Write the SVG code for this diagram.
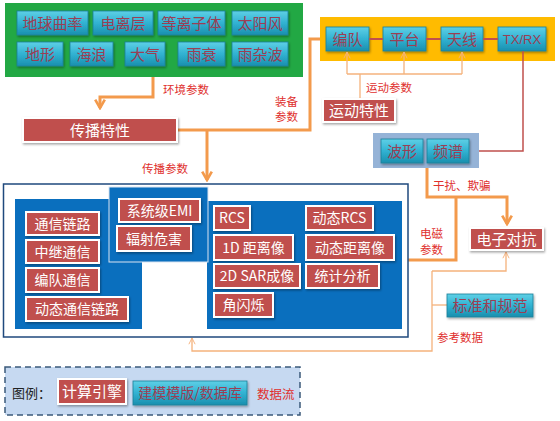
<svg xmlns="http://www.w3.org/2000/svg" width="560" height="421" viewBox="0 0 560 421">
<defs>
<linearGradient id="cy" x1="0" y1="0" x2="0" y2="1">
<stop offset="0" stop-color="#5fd0e6"/><stop offset="0.5" stop-color="#31b2d2"/><stop offset="1" stop-color="#1a8fae"/>
</linearGradient>
<filter id="sh" x="-10%" y="-10%" width="130%" height="140%">
<feDropShadow dx="1" dy="1.5" stdDeviation="1" flood-color="#000" flood-opacity="0.35"/>
</filter>
<marker id="ab" viewBox="0 0 10 10" refX="8" refY="5" markerWidth="4" markerHeight="4" orient="auto" markerUnits="strokeWidth">
<path d="M1,1 L8,5 L1,9" fill="none" stroke="#f39a4c" stroke-width="2.2"/>
</marker>
<marker id="at" viewBox="0 0 10 10" refX="9" refY="5" markerWidth="6" markerHeight="6" orient="auto" markerUnits="strokeWidth">
<path d="M1,1 L9,5 L1,9" fill="none" stroke="#f5b27c" stroke-width="1.2"/>
</marker>
</defs>
<style>
.cy{fill:url(#cy);stroke:#1b7f9a;stroke-width:0.8;filter:url(#sh)}
.ct{font-family:"Noto Sans CJK SC","Liberation Sans",sans-serif;font-size:15px;fill:#9b3e54;text-anchor:middle}
.rd{fill:#c0504d;stroke:#ffffff;stroke-width:2;filter:url(#sh)}
.rt{font-family:"Noto Sans CJK SC","Liberation Sans",sans-serif;font-size:14px;fill:#ffffff;text-anchor:middle}
.lb{font-family:"Noto Sans CJK SC",sans-serif;font-size:11.5px;fill:#e0302e}
.bp{fill:#0a6fbe}
.ot{fill:none;stroke:#f39a4c;stroke-width:3}
.on{fill:none;stroke:#f5b27c;stroke-width:1.3}
.dr{fill:none;stroke:#c0504d;stroke-width:2}
</style>
<rect x="0" y="0" width="560" height="421" fill="#ffffff"/>

<g id="env">
<rect x="5" y="3" width="298" height="74" fill="#22a844"/>
<g id="n-curv"><rect class="cy" x="17" y="11" width="71" height="24"/><text class="ct" x="52.5" y="28.5">地球曲率</text></g>
<g id="n-iono"><rect class="cy" x="93" y="11" width="60" height="24"/><text class="ct" x="123" y="28.5">电离层</text></g>
<g id="n-plasma"><rect class="cy" x="158" y="11" width="67" height="24"/><text class="ct" x="191.5" y="28.5">等离子体</text></g>
<g id="n-sun"><rect class="cy" x="232" y="11" width="56" height="24"/><text class="ct" x="260" y="28.5">太阳风</text></g>
<g id="n-terr"><rect class="cy" x="17" y="42" width="46" height="24"/><text class="ct" x="40" y="59.5">地形</text></g>
<g id="n-wave"><rect class="cy" x="70" y="42" width="43" height="24"/><text class="ct" x="91.5" y="59.5">海浪</text></g>
<g id="n-atm"><rect class="cy" x="125" y="42" width="40" height="24"/><text class="ct" x="145" y="59.5">大气</text></g>
<g id="n-rainatt"><rect class="cy" x="178" y="42" width="47" height="24"/><text class="ct" x="201.5" y="59.5">雨衰</text></g>
<g id="n-clutter"><rect class="cy" x="232" y="42" width="56" height="24"/><text class="ct" x="260" y="59.5">雨杂波</text></g>
</g>

<g id="equip">
<rect x="320" y="17" width="235" height="44" fill="#ffbb00"/>
<g id="n-form"><rect class="cy" x="326" y="27" width="43" height="24"/><text class="ct" x="347.5" y="44.5">编队</text></g>
<g id="n-plat"><rect class="cy" x="383" y="27" width="43" height="24"/><text class="ct" x="404.5" y="44.5">平台</text></g>
<g id="n-ant"><rect class="cy" x="441" y="27" width="42" height="24"/><text class="ct" x="462" y="44.5">天线</text></g>
<g id="n-txrx"><rect class="cy" x="498" y="27" width="48" height="24"/><text class="ct" x="522" y="44" style="font-family:'Liberation Sans',sans-serif;font-size:13px">TX/RX</text></g>
</g>

<g id="connectors">
<path class="dr" d="M369,39 H383 M426,39 H441 M483,39 H498"/>
<path class="dr" style="stroke-width:1.5" d="M523,51 V151 H479"/>
<path class="ot" d="M153,77 V97 H100 V108" marker-end="url(#ab)"/>
<path class="ot" d="M320,39 H310 V130 H178"/>
<path class="ot" d="M207,130 V180" marker-end="url(#ab)"/>
<path class="ot" d="M427,168 V197 H507 V224" marker-end="url(#ab)"/>
<path class="ot" d="M456,197 V260 H408"/>
<path class="on" d="M360,99 V74"/>
<path class="on" d="M347,74 H462"/>
<path class="on" d="M347,74 V52" marker-end="url(#at)"/>
<path class="on" d="M404,74 V52" marker-end="url(#at)"/>
<path class="on" d="M462,74 V52" marker-end="url(#at)"/>
<path class="on" d="M432,305 H447"/>
<path class="on" d="M432,271 H506 V252" marker-end="url(#at)"/>
<path class="on" d="M432,271 V351 H192 V338" marker-end="url(#at)"/>
</g>

<g id="labels">
<text class="lb" x="163" y="94">环境参数</text>
<text class="lb" x="275" y="106">装备</text>
<text class="lb" x="275" y="121">参数</text>
<text class="lb" x="366" y="92">运动参数</text>
<text class="lb" x="142" y="173">传播参数</text>
<text class="lb" x="433" y="190">干扰、欺骗</text>
<text class="lb" x="420" y="238">电磁</text>
<text class="lb" x="420" y="254">参数</text>
<text class="lb" x="437" y="342">参考数据</text>
</g>

<g id="n-prop"><rect class="rd" x="23" y="118" width="154" height="24"/><text class="rt" x="100" y="135.5" style="font-size:15px">传播特性</text></g>
<g id="n-motion"><rect class="rd" x="323" y="99" width="72" height="23"/><text class="rt" x="359" y="116" style="font-size:15px">运动特性</text></g>

<g id="wave">
<rect x="373" y="133" width="106" height="35" fill="#95b3d7"/>
<g id="n-wf"><rect class="cy" x="381" y="139" width="42" height="24"/><text class="ct" x="402" y="156.5">波形</text></g>
<g id="n-sp"><rect class="cy" x="427" y="139" width="42" height="24"/><text class="ct" x="448" y="156.5">频谱</text></g>
</g>

<g id="n-ecm"><rect class="rd" x="470" y="228" width="73" height="22"/><text class="rt" x="506.5" y="244.5" style="font-size:15px">电子对抗</text></g>
<g id="n-std"><rect class="cy" x="447" y="294" width="86" height="23"/><text class="ct" x="490" y="311">标准和规范</text></g>

<g id="main">
<rect x="3.5" y="184" width="404.5" height="153" fill="#ffffff" stroke="#1f497d" stroke-width="1.5"/>
<rect class="bp" x="15" y="199" width="127" height="130"/>
<rect class="bp" x="207" y="201" width="195" height="128"/>
<rect class="bp" x="109" y="187" width="99" height="75" stroke="#d8e4f2" stroke-width="1"/>
<g id="n-comm"><rect class="rd" x="26" y="212" width="73" height="23"/><text class="rt" x="62.5" y="228.5">通信链路</text></g>
<g id="n-relay"><rect class="rd" x="26" y="240" width="73" height="23"/><text class="rt" x="62.5" y="256.5">中继通信</text></g>
<g id="n-fcomm"><rect class="rd" x="26" y="268" width="73" height="24"/><text class="rt" x="62.5" y="285">编队通信</text></g>
<g id="n-dcomm"><rect class="rd" x="26" y="297" width="102" height="24"/><text class="rt" x="77" y="314">动态通信链路</text></g>
<g id="n-emi"><rect class="rd" x="119" y="199" width="81" height="23"/><text class="rt" x="159.5" y="215.5">系统级EMI</text></g>
<g id="n-rad"><rect class="rd" x="117" y="226" width="74" height="25"/><text class="rt" x="154" y="243.5">辐射危害</text></g>
<g id="n-rcs"><rect class="rd" x="214" y="206" width="36" height="24"/><text class="rt" x="232" y="223">RCS</text></g>
<g id="n-1d"><rect class="rd" x="214" y="235" width="79" height="25"/><text class="rt" x="253.5" y="252.5">1D 距离像</text></g>
<g id="n-2d"><rect class="rd" x="214" y="264" width="86" height="24"/><text class="rt" x="257" y="281">2D SAR成像</text></g>
<g id="n-glint"><rect class="rd" x="214" y="293" width="59" height="24"/><text class="rt" x="243.5" y="310">角闪烁</text></g>
<g id="n-drcs"><rect class="rd" x="306" y="206" width="67" height="24"/><text class="rt" x="339.5" y="223">动态RCS</text></g>
<g id="n-drp"><rect class="rd" x="306" y="235" width="88" height="25"/><text class="rt" x="350" y="252.5">动态距离像</text></g>
<g id="n-stat"><rect class="rd" x="306" y="264" width="73" height="24"/><text class="rt" x="342.5" y="281">统计分析</text></g>
</g>

<g id="legend">
<rect x="5" y="367" width="295" height="48" fill="#c6d9f1" stroke="#3b5a7a" stroke-width="1.5" stroke-dasharray="6,4"/>
<text x="12" y="398" style="font-family:'Noto Sans CJK SC',sans-serif;font-size:13px;fill:#222">图例：</text>
<g id="n-lg-eng"><rect class="rd" x="58" y="379" width="68" height="25"/><text class="rt" x="92" y="397" style="font-size:15px">计算引擎</text></g>
<g id="n-lg-db"><rect class="cy" x="133" y="381" width="114" height="24"/><text class="ct" x="190" y="398" style="font-size:14px">建模模版/数据库</text></g>
<text class="lb" x="257" y="399" style="font-size:12.5px">数据流</text>
</g>
</svg>
